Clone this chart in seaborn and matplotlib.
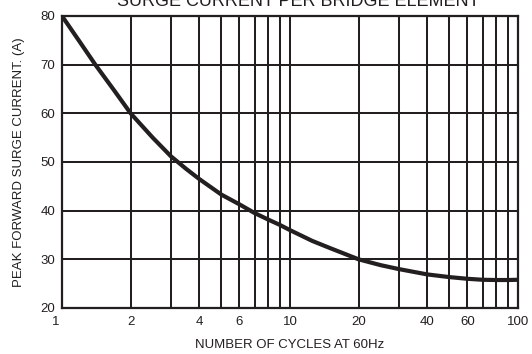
import matplotlib
matplotlib.use("Agg")
import matplotlib.pyplot as plt
import matplotlib.ticker as mticker
import matplotlib.transforms as mtransforms
import pandas as pd
import seaborn as sns

# values
cycles = [1, 1.2, 1.4, 1.7, 2, 2.5, 3, 3.5, 4, 5, 6, 7, 8, 9, 10, 12.5, 15,
          20, 25, 30, 40, 50, 60, 70, 80, 90, 100]
current = [80, 74.6, 70, 64.6, 60, 55, 51.2, 48.6, 46.5, 43.3, 41.3, 39.5,
           38.2, 37.1, 36.0, 33.8, 32.3, 30.0, 28.8, 28.0, 26.9, 26.35, 26.0,
           25.8, 25.75, 25.75, 25.8]

x_labels = [1, 2, 4, 6, 10, 20, 40, 60, 100]
x_grid = [1, 2, 3, 4, 5, 6, 7, 8, 9, 10, 20, 30, 40, 50, 60, 70, 80, 90, 100]
y_ticks = [20, 30, 40, 50, 60, 70, 80]

ink = "#231f20"

sns.set_style("white")
plt.rcParams['font.family'] = ['Liberation Sans', 'DejaVu Sans']

df = pd.DataFrame({"cycles": cycles, "current": current})

fig = plt.figure(figsize=(5.32, 3.54), dpi=100)
ax = fig.add_axes([62 / 532, 1 - 308 / 354, 456 / 532, 292 / 354])

ax.set_xscale("log")
for xv in x_grid:
    ax.axvline(xv, color=ink, lw=1.45, zorder=1)
for yv in y_ticks:
    ax.axhline(yv, color=ink, lw=1.45, zorder=1)

sns.lineplot(data=df, x="cycles", y="current", ax=ax, color=ink,
             lw=3.0, zorder=3, estimator=None, solid_joinstyle="round",
             solid_capstyle="butt")

ax.set_xlim(1, 100)
ax.set_ylim(20, 80)
ax.set_xticks(x_labels)
ax.xaxis.set_major_formatter(mticker.FuncFormatter(lambda v, p: f"{v:g}"))
ax.xaxis.set_minor_locator(mticker.NullLocator())
ax.set_yticks(y_ticks)
ax.tick_params(axis="both", length=0, labelsize=9.5, colors=ink)
ax.tick_params(axis="x", pad=5.5)
ax.tick_params(axis="y", pad=5)
for s in ax.spines.values():
    s.set_visible(True)
    s.set_color(ink)
    s.set_linewidth(1.6)

# the "1" sits a little left of the axis corner
first = ax.get_xticklabels()[0]
first.set_transform(first.get_transform() +
                    mtransforms.ScaledTranslation(-6 / 100, 0, fig.dpi_scale_trans))

ax.set_xlabel("NUMBER OF CYCLES AT 60Hz", fontsize=9.5, color=ink, labelpad=8)
ax.set_ylabel("PEAK FORWARD SURGE CURRENT. (A)", fontsize=9.5, color=ink, labelpad=11)
fig.text(298 / 532, 1 - 6 / 354, "SURGE CURRENT PER BRIDGE ELEMENT", ha="center",
         va="baseline", fontsize=13, color=ink)

fig.savefig("out.png", dpi=100)
